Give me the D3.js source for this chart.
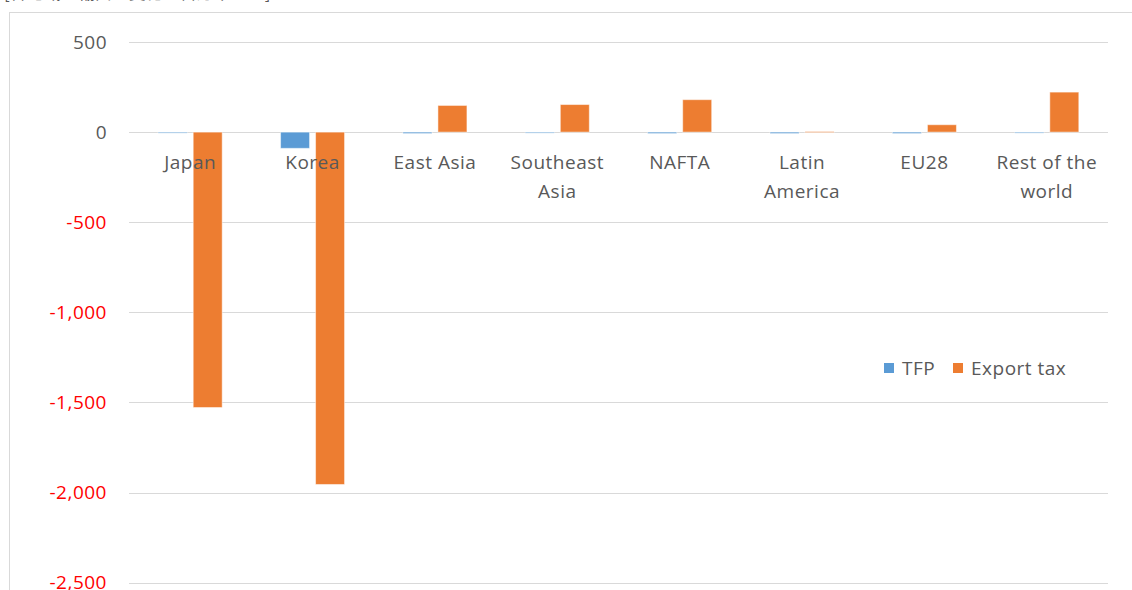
<!DOCTYPE html>
<html><head><meta charset="utf-8">
<script src="https://cdn.jsdelivr.net/npm/d3@7"></script>
<style>html,body{margin:0;padding:0;background:#fff;overflow:hidden}svg{display:block}</style>
</head><body>
<svg id="c" width="1132" height="590"></svg>
<script>
const categories = ["Japan","Korea","East Asia","Southeast Asia","NAFTA","Latin America","EU28","Rest of the world"];
const categoryLines = [["Japan"],["Korea"],["East Asia"],["Southeast","Asia"],["NAFTA"],["Latin","America"],["EU28"],["Rest of the","world"]];
const seriesNames = ["TFP","Export tax"];
const tfp = [-3,-90,-8,-3,-8,-8,-8,-3];
const exportTax = [-1528,-1955,148,153,180,3,41,222];
const yTicks = [500,0,-500,-1000,-1500,-2000,-2500];
const unitLabel = "[各地域の輸出の変化、百万米ドル]";

const colors = {"TFP":"#5B9BD5","Export tax":"#ED7D31"};
const svg = d3.select("#c");
const font = "'Open Sans', sans-serif";
const fs = 19, ls = 0.5;

// frame
svg.append("line").attr("x1",9.5).attr("x2",9.5).attr("y1",12).attr("y2",590).attr("stroke","#d9d9d9");
svg.append("line").attr("x1",9).attr("x2",1132).attr("y1",12.5).attr("y2",12.5).attr("stroke","#d9d9d9");
svg.append("text").attr("x",4).attr("y",-1).attr("font-family","'Noto Sans CJK JP'").attr("font-size",17).attr("fill","#595959").text(unitLabel);

const x0 = d3.scaleBand().domain(categories).range([129,1108]);
const y = d3.scaleLinear().domain([-2500,500]).range([582.7,42]);

// gridlines
const g = svg.append("g");
g.selectAll("line.grid").data(yTicks).join("line")
  .attr("x1",129).attr("x2",1108)
  .attr("y1",d=>Math.round(y(d))+0.5).attr("y2",d=>Math.round(y(d))+0.5)
  .attr("stroke","#d9d9d9").attr("stroke-width",1);

// y tick labels
svg.append("g").selectAll("text").data(yTicks).join("text")
  .attr("x",107).attr("y",d=>y(d)).attr("dy","0.35em")
  .attr("text-anchor","end").attr("font-family",font).attr("font-size",fs).attr("letter-spacing",ls)
  .attr("fill",d=>d<0?"#FF0000":"#595959")
  .text(d=>d3.format(",")(d).replace("−","-"));

// bars
const barW = 29, gap = 6;
const data = [];
categories.forEach((c,i)=>{
  data.push({c, s:"TFP", v:tfp[i], off:-gap/2-barW});
  data.push({c, s:"Export tax", v:exportTax[i], off:gap/2});
});
svg.append("g").selectAll("rect").data(data).join("rect")
  .attr("x",d=>x0(d.c)+x0.bandwidth()/2+d.off)
  .attr("width",barW)
  .attr("y",d=>Math.min(y(d.v),y(0)))
  .attr("height",d=>Math.max(1,Math.abs(y(d.v)-y(0))))
  .attr("fill",d=>colors[d.s])
  .attr("stroke","#fff").attr("stroke-opacity",0.5).attr("stroke-width",1);

// category labels
const cl = svg.append("g");
categories.forEach((c,i)=>{
  categoryLines[i].forEach((line,j)=>{
    cl.append("text").attr("x",x0(c)+x0.bandwidth()/2).attr("y",169+j*29)
      .attr("text-anchor","middle").attr("font-family",font).attr("font-size",fs).attr("letter-spacing",ls)
      .attr("fill","#595959").text(line);
  });
});

// legend
const lg = svg.append("g");
const legendPos = [{s:"TFP",x:884},{s:"Export tax",x:953}];
legendPos.forEach(p=>{
  lg.append("rect").attr("x",p.x).attr("y",363).attr("width",10).attr("height",10).attr("fill",colors[p.s]);
  lg.append("text").attr("x",p.x+18).attr("y",368).attr("dy","0.35em").attr("font-family",font).attr("font-size",fs).attr("letter-spacing",ls).attr("fill","#595959").text(p.s);
});
</script>
</body></html>
